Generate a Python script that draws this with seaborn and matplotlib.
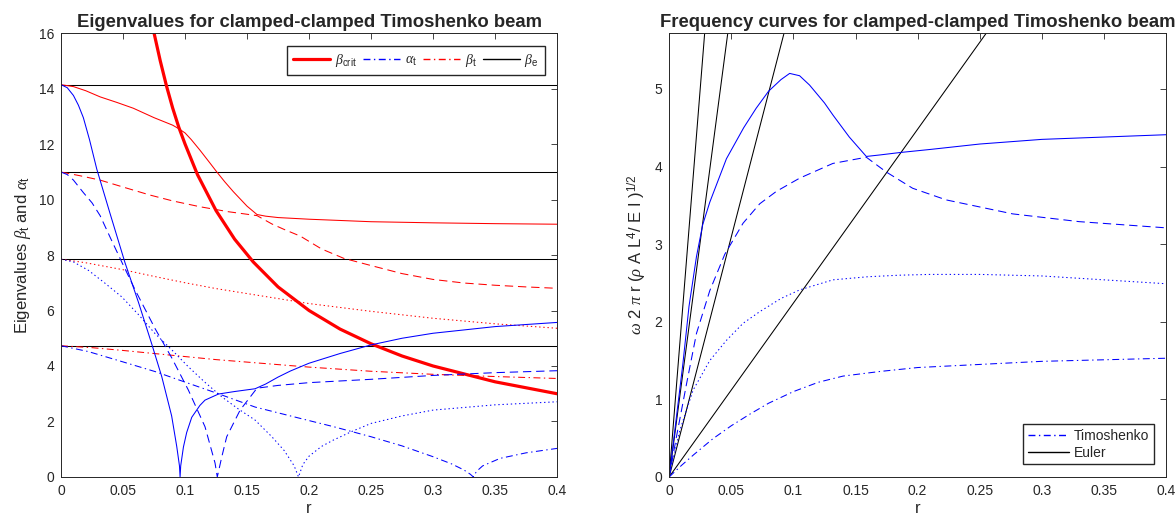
import matplotlib
matplotlib.use('Agg')
from matplotlib import pyplot as plt
from matplotlib.lines import Line2D
import seaborn as sns

# ---- left panel: eigenvalues vs r ----
beta_e = [4.730, 7.853, 10.996, 14.137]

r_crit = [0.0745, 0.08, 0.085, 0.09, 0.095, 0.1, 0.11, 0.125, 0.14, 0.155, 0.175, 0.2, 0.225, 0.25, 0.275, 0.3, 0.35, 0.4]
beta_crit = [16.1, 15.0, 14.1, 13.3, 12.6, 12.0, 10.9, 9.6, 8.57, 7.75, 6.85, 6.0, 5.33, 4.8, 4.36, 4.0, 3.43, 3.0]

# beta_t, modes 1..4
r_bt1 = [0, 0.025, 0.05, 0.075, 0.1, 0.125, 0.15, 0.175, 0.2, 0.25, 0.3, 0.35, 0.4]
beta_t1 = [4.73, 4.66, 4.56, 4.45, 4.34, 4.23, 4.14, 4.05, 3.96, 3.81, 3.70, 3.62, 3.55]

r_bt2 = [0, 0.02, 0.05, 0.075, 0.1, 0.125, 0.15, 0.175, 0.2, 0.25, 0.3, 0.35, 0.4]
beta_t2 = [7.85, 7.72, 7.47, 7.23, 7.00, 6.79, 6.61, 6.43, 6.25, 5.97, 5.72, 5.52, 5.36]

r_bt3 = [0, 0.015, 0.0315, 0.05, 0.0718, 0.09, 0.112, 0.135, 0.158, 0.17, 0.18, 0.193, 0.21, 0.228, 0.25, 0.275, 0.3, 0.325, 0.35, 0.375, 0.4]
beta_t3 = [10.99, 10.86, 10.70, 10.45, 10.16, 9.95, 9.74, 9.56, 9.42, 9.12, 8.92, 8.68, 8.22, 7.88, 7.62, 7.33, 7.12, 6.99, 6.91, 6.85, 6.80]

r_bt4 = [0, 0.01, 0.02, 0.0315, 0.045, 0.0583, 0.075, 0.09, 0.095, 0.1, 0.105, 0.112, 0.12, 0.1255, 0.132, 0.139, 0.15, 0.158, 0.165, 0.175, 0.2, 0.25, 0.3, 0.35, 0.4]
beta_t4 = [14.14, 14.07, 13.92, 13.70, 13.50, 13.29, 12.95, 12.68, 12.55, 12.40, 12.16, 11.78, 11.32, 11.0, 10.64, 10.28, 9.76, 9.46, 9.40, 9.35, 9.29, 9.20, 9.16, 9.13, 9.11]

# alpha_t, modes 1..4
r_at1 = [0, 0.022, 0.049, 0.0758, 0.0987, 0.1256, 0.1565, 0.193, 0.22, 0.25, 0.275, 0.3, 0.315, 0.325, 0.33, 0.3325, 0.335, 0.34, 0.354, 0.375, 0.4]
alpha_t1 = [4.73, 4.52, 4.16, 3.80, 3.44, 3.02, 2.52, 2.11, 1.81, 1.45, 1.12, 0.73, 0.47, 0.25, 0.1, 0.0, 0.2, 0.4, 0.67, 0.87, 1.03]

r_at2 = [0, 0.01, 0.022, 0.035, 0.049, 0.0625, 0.0758, 0.09, 0.1027, 0.1161, 0.1296, 0.143, 0.1565, 0.17, 0.18, 0.188, 0.1915, 0.195, 0.2, 0.21, 0.2196, 0.235, 0.25, 0.275, 0.3, 0.35, 0.4]
alpha_t2 = [7.85, 7.75, 7.45, 7.0, 6.49, 5.85, 5.17, 4.55, 3.97, 3.41, 2.89, 2.45, 2.05, 1.45, 0.95, 0.4, 0.0, 0.45, 0.75, 1.1, 1.33, 1.65, 1.93, 2.2, 2.41, 2.6, 2.71]

r_at3 = [0, 0.005, 0.01, 0.018, 0.025, 0.0315, 0.04, 0.05, 0.06, 0.0758, 0.0892, 0.1027, 0.1161, 0.1242, 0.126, 0.1296, 0.1336, 0.1444, 0.158, 0.175, 0.2, 0.25, 0.3, 0.35, 0.4]
alpha_t3 = [10.99, 10.9, 10.7, 10.25, 9.88, 9.42, 8.6, 7.65, 6.72, 5.35, 4.3, 3.13, 1.81, 0.5, 0.0, 0.72, 1.45, 2.41, 3.2, 3.3, 3.4, 3.52, 3.66, 3.76, 3.83]

r_at4 = [0, 0.005, 0.01, 0.014, 0.018, 0.023, 0.0288, 0.0395, 0.0516, 0.0624, 0.0731, 0.0812, 0.0892, 0.0933, 0.0955, 0.096, 0.0965, 0.0987, 0.1013, 0.1054, 0.112, 0.1161, 0.127, 0.14, 0.1565, 0.165, 0.175, 0.185, 0.2, 0.225, 0.25, 0.275, 0.3, 0.35, 0.4]
alpha_t4 = [14.14, 14.03, 13.75, 13.4, 12.95, 12.15, 11.1, 9.5, 7.72, 6.3, 4.8, 3.62, 2.2, 1.1, 0.4, 0.0, 0.4, 1.08, 1.6, 2.15, 2.58, 2.77, 2.99, 3.08, 3.18, 3.35, 3.6, 3.82, 4.1, 4.45, 4.76, 5.0, 5.18, 5.42, 5.57]

# ---- right panel: frequency curves ----
# Euler lines: from origin to where they leave the top of the frame
euler_r_top = [0.2553, 0.0925, 0.0472, 0.0286]
euler_top = [5.72, 5.72, 5.72, 5.72]

r_f1 = [0, 0.01, 0.02, 0.035, 0.05, 0.065, 0.08, 0.1, 0.12, 0.14, 0.17, 0.2, 0.25, 0.3, 0.35, 0.4]
freq1 = [0, 0.15, 0.29, 0.49, 0.66, 0.81, 0.95, 1.10, 1.22, 1.30, 1.36, 1.41, 1.45, 1.49, 1.51, 1.53]

r_f2 = [0, 0.005, 0.0086, 0.0193, 0.0327, 0.0461, 0.0595, 0.0729, 0.09, 0.105, 0.1318, 0.16, 0.1855, 0.21, 0.25, 0.3, 0.33, 0.37, 0.4]
freq2 = [0, 0.35, 0.60, 1.12, 1.50, 1.76, 1.98, 2.13, 2.30, 2.41, 2.54, 2.58, 2.60, 2.61, 2.61, 2.59, 2.56, 2.52, 2.49]

r_f3 = [0, 0.0059, 0.014, 0.022, 0.0327, 0.0448, 0.0595, 0.0729, 0.0863, 0.105, 0.1318, 0.1587, 0.1747, 0.196, 0.223, 0.2765, 0.33, 0.4]
freq3 = [0, 0.52, 1.20, 1.85, 2.40, 2.87, 3.27, 3.52, 3.68, 3.85, 4.04, 4.12, 3.93, 3.72, 3.57, 3.39, 3.29, 3.21]

r_f4 = [0, 0.011, 0.016, 0.022, 0.027, 0.0327, 0.0461, 0.06, 0.07, 0.08, 0.09, 0.097, 0.105, 0.113, 0.125, 0.132, 0.145, 0.1587, 0.17, 0.1855, 0.21, 0.25, 0.3, 0.35, 0.4]
freq4 = [0, 1.45, 2.2, 2.84, 3.25, 3.54, 4.1, 4.5, 4.75, 4.97, 5.12, 5.20, 5.17, 5.05, 4.82, 4.66, 4.38, 4.13, 4.15, 4.18, 4.22, 4.29, 4.35, 4.38, 4.41]

x_ticks = [0, 0.05, 0.1, 0.15, 0.2, 0.25, 0.3, 0.35, 0.4]
x_ticklabels = ['0', '0.05', '0.1', '0.15', '0.2', '0.25', '0.3', '0.35', '0.4']

sns.set_style('white')
plt.rcParams['font.family'] = ['Liberation Sans', 'DejaVu Sans']
plt.rcParams['mathtext.fontset'] = 'custom'
plt.rcParams['mathtext.rm'] = 'Liberation Sans'
plt.rcParams['mathtext.it'] = 'Liberation Serif:italic'
plt.rcParams['mathtext.sf'] = 'Liberation Sans'
plt.rcParams['lines.scale_dashes'] = False
plt.rcParams['xtick.direction'] = 'in'
plt.rcParams['ytick.direction'] = 'in'

DASH = (0, (6, 3.5))
DOT = (0, (1, 2))
DASHDOT = (0, (5, 2.5, 1, 2.5))
LW = 0.75
AX_COL = '#262626'

fig = plt.figure(figsize=(11.76, 5.18), dpi=100)
ax1 = fig.add_axes([0.0519, 0.0792, 0.4218, 0.857])
ax2 = fig.add_axes([0.5690, 0.0792, 0.4226, 0.857])

# left
for b in beta_e:
    ax1.axhline(b, color='k', lw=LW)
sns.lineplot(x=r_crit, y=beta_crit, ax=ax1, color='red', lw=2.3, sort=False, estimator=None)
sns.lineplot(x=r_bt1, y=beta_t1, ax=ax1, color='red', lw=LW, linestyle=DASHDOT, sort=False, estimator=None)
sns.lineplot(x=r_bt2, y=beta_t2, ax=ax1, color='red', lw=LW, linestyle=DOT, sort=False, estimator=None)
sns.lineplot(x=r_bt3, y=beta_t3, ax=ax1, color='red', lw=LW, linestyle=DASH, sort=False, estimator=None)
sns.lineplot(x=r_bt4, y=beta_t4, ax=ax1, color='red', lw=LW, sort=False, estimator=None)
sns.lineplot(x=r_at1, y=alpha_t1, ax=ax1, color='blue', lw=LW, linestyle=DASHDOT, sort=False, estimator=None)
sns.lineplot(x=r_at2, y=alpha_t2, ax=ax1, color='blue', lw=LW, linestyle=DOT, sort=False, estimator=None)
sns.lineplot(x=r_at3, y=alpha_t3, ax=ax1, color='blue', lw=LW, linestyle=DASH, sort=False, estimator=None)
sns.lineplot(x=r_at4, y=alpha_t4, ax=ax1, color='blue', lw=LW, sort=False, estimator=None)

ax1.set_xlim(0, 0.4)
ax1.set_ylim(0, 16)
ax1.set_yticks(range(0, 17, 2))
ax1.set_title('Eigenvalues for clamped-clamped Timoshenko beam', fontsize=13.3, fontweight='bold', pad=4)
ax1.set_ylabel(r'Eigenvalues $\beta_{\mathrm{t}}$ and $\alpha_{\mathrm{t}}$', fontsize=12, color=AX_COL)
handles1 = [
    Line2D([], [], color='red', lw=2.3),
    Line2D([], [], color='blue', lw=1.0, linestyle=DASHDOT),
    Line2D([], [], color='red', lw=1.0, linestyle=DASHDOT),
    Line2D([], [], color='k', lw=1.0),
]
labels1 = [r'$\beta_{\mathrm{crit}}$', r'$\alpha_{\mathrm{t}}$', r'$\beta_{\mathrm{t}}$', r'$\beta_{\mathrm{e}}$']
ax1.legend(handles1, labels1, ncol=4, loc='upper right', fontsize=10, handlelength=2.7,
           columnspacing=0.45, handletextpad=0.3, borderaxespad=0.9, fancybox=False,
           framealpha=1, edgecolor=AX_COL, borderpad=0.45)

# right
for rt, yt in zip(euler_r_top, euler_top):
    sns.lineplot(x=[0, rt], y=[0, yt], ax=ax2, color='k', lw=LW, sort=False, estimator=None)
sns.lineplot(x=r_f1, y=freq1, ax=ax2, color='blue', lw=LW, linestyle=DASHDOT, sort=False, estimator=None)
sns.lineplot(x=r_f2, y=freq2, ax=ax2, color='blue', lw=LW, linestyle=DOT, sort=False, estimator=None)
sns.lineplot(x=r_f3, y=freq3, ax=ax2, color='blue', lw=LW, linestyle=DASH, sort=False, estimator=None)
sns.lineplot(x=r_f4, y=freq4, ax=ax2, color='blue', lw=LW, sort=False, estimator=None)

ax2.set_xlim(0, 0.4)
ax2.set_ylim(0, 5.72)
ax2.set_yticks(range(0, 6))
ax2.set_title('Frequency curves for clamped-clamped Timoshenko beam', fontsize=13.3, fontweight='bold', pad=4)
ax2.set_ylabel(r'$\omega$ 2 $\pi$ r ($\rho$ A L$^4$/ E I )$^{1/2}$', fontsize=12, color=AX_COL)
handles2 = [Line2D([], [], color='blue', lw=1.0, linestyle=DASHDOT), Line2D([], [], color='k', lw=1.0)]
ax2.legend(handles2, ['Timoshenko', 'Euler'], loc='lower right', fontsize=10, handlelength=3.0,
           handletextpad=0.3, borderaxespad=0.9, fancybox=False, framealpha=1,
           edgecolor=AX_COL, borderpad=0.35, labelspacing=0.2)

for ax in (ax1, ax2):
    ax.set_xticks(x_ticks)
    ax.set_xticklabels(x_ticklabels)
    ax.set_xlabel('r', fontsize=12, color=AX_COL, labelpad=2)
    ax.tick_params(axis='both', labelsize=10, colors=AX_COL, length=4, width=0.6,
                   top=True, right=True, direction='in', pad=5)
    for sp in ax.spines.values():
        sp.set_color(AX_COL)
        sp.set_linewidth(0.7)
        sp.set_visible(True)

fig.savefig('out.png', dpi=100)
